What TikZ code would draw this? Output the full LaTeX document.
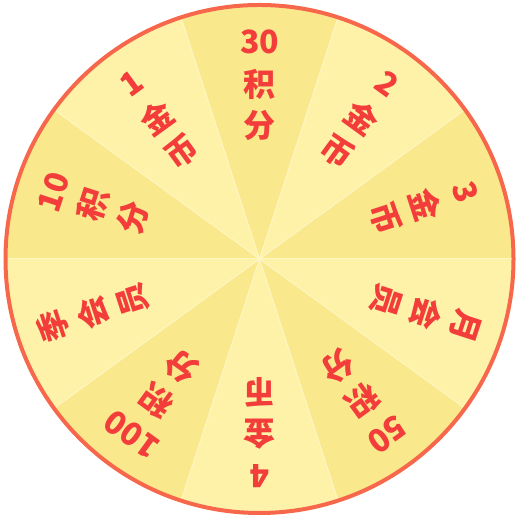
\documentclass[tikz,border=0pt]{standalone}
\usepackage{fontspec}
\newfontfamily\cjk{Noto Sans CJK SC}
\definecolor{rimc}{HTML}{F7674B}
\definecolor{darkseg}{HTML}{FAE88C}
\definecolor{lightseg}{HTML}{FEF2A8}
\definecolor{sepc}{HTML}{FFF6C4}
\definecolor{txtc}{HTML}{F23D3B}
\begin{document}
\begin{tikzpicture}[x=1pt,y=1pt,
  lbl/.style={text=txtc, font=\cjk\bfseries\fontsize{32}{32}\selectfont, inner sep=0pt, anchor=center}]
\useasboundingbox (0,0) rectangle (519,518);
\coordinate (C) at (259.5,259);
\foreach \a/\col in {90/darkseg,54/lightseg,18/darkseg,-18/lightseg,-54/darkseg,-90/lightseg,-126/darkseg,-162/lightseg,162/darkseg,126/lightseg}{
  \fill[\col] (C) -- ++(\a-18:254) arc[start angle=\a-18, end angle=\a+18, radius=254] -- cycle;
}
\foreach \a in {72,36,0,-36,-72,-108,-144,-180,144,108}{
  \draw[sepc, line width=1] (C) -- ++(\a:254);
}
\draw[rimc, line width=4] (C) circle[radius=254];
\foreach \a/\p/\q/\r [count=\i] in {90/30/积/分, 54/2/金/币, 18/3/金/币, -18/月/会/员, -54/50/积/分, -90/4/金/币, -126/100/积/分, -162/季/会/员, 162/10/积/分, 126/1/金/币}{
  \node[lbl, rotate=\a-90] (p\i) at ([shift={(\a:217)}]C) {\p};
  \node[lbl, rotate=\a-90] (q\i) at ([shift={(\a:175)}]C) {\q};
  \node[lbl, rotate=\a-90] (r\i) at ([shift={(\a:133)}]C) {\r};
}
\end{tikzpicture}
\end{document}
